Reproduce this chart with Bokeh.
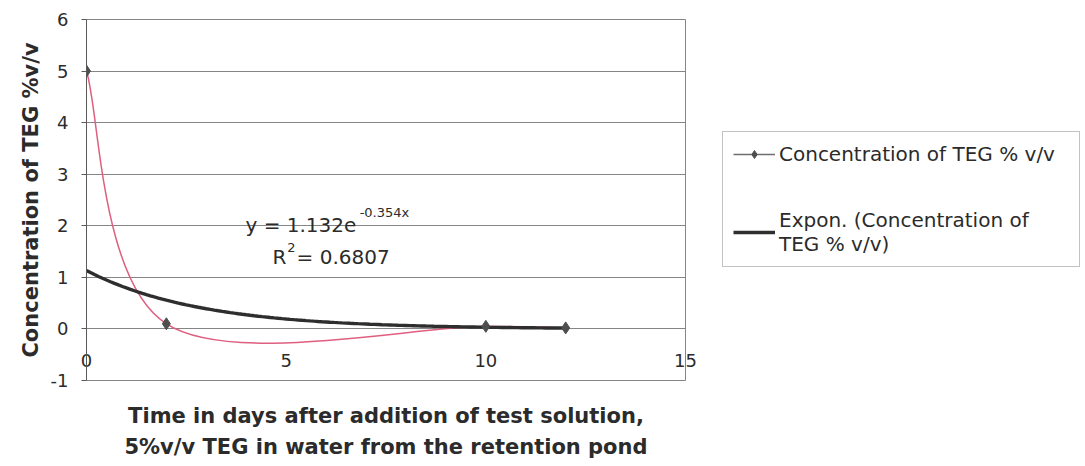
import math
from bokeh.plotting import figure
from bokeh.layouts import row
from bokeh.models import Legend, LegendItem, Label, Range1d, FixedTicker, LinearAxis
from bokeh.embed import file_html
from bokeh.resources import INLINE

# ---- data ----
days = [0, 2, 10, 12]
conc = [5.0, 0.1, 0.05, 0.02]
trend_a = 1.132
trend_b = -0.354
trend_x_end = 12
x_ticks = [0, 5, 10, 15]
y_ticks = [-1, 0, 1, 2, 3, 4, 5, 6]
series_name = "Concentration of TEG % v/v"
trend_name = "Expon. (Concentration of\nTEG % v/v)"
x_title = "Time in days after addition of test solution,\n5%v/v TEG in water from the retention pond"
y_title = "Concentration of TEG %v/v"

FONT = "DejaVu Sans"
TXT = "#2b2b2b"
GRID = "#858585"

H = 464
W1 = 700
FL, FT, FR, FB = 86, 19, 685, 380
p = figure(width=W1, height=H, output_backend="svg", toolbar_location=None,
           x_range=Range1d(0, 15), y_range=Range1d(-1, 6),
           min_border_left=FL, min_border_top=FT, min_border_right=W1 - FR, min_border_bottom=H - FB)
p.background_fill_color = "white"
p.border_fill_color = "white"
p.outline_line_color = GRID
p.outline_line_width = 1

p.xgrid.visible = False
p.ygrid.ticker = FixedTicker(ticks=y_ticks)
p.ygrid.grid_line_color = GRID
p.ygrid.grid_line_width = 1

# y axis
p.yaxis.ticker = FixedTicker(ticks=y_ticks)
p.yaxis.major_label_overrides = {-1: "-1"}
p.yaxis.axis_line_color = "#5a5a5a"
p.yaxis.major_tick_line_color = "#5a5a5a"
p.yaxis.major_tick_out = 5
p.yaxis.major_tick_in = 0
p.yaxis.minor_tick_line_color = None
p.yaxis.major_label_standoff = 13
p.yaxis.major_label_text_font = FONT
p.yaxis.major_label_text_font_size = "18px"
p.yaxis.major_label_text_color = TXT
p.yaxis.axis_label = y_title
p.yaxis.axis_label_text_font = FONT
p.yaxis.axis_label_text_font_style = "bold"
p.yaxis.axis_label_text_font_size = "21px"
p.yaxis.axis_label_text_color = TXT
p.yaxis.axis_label_standoff = 5

# x axis: tick labels pulled up inside the frame, just under the zero line
xa = p.xaxis[0]
xa.ticker = FixedTicker(ticks=x_ticks)
xa.axis_line_color = None
xa.major_tick_line_color = None
xa.minor_tick_line_color = None
xa.major_label_standoff = -33
xa.major_label_text_font = FONT
xa.major_label_text_font_size = "18px"
xa.major_label_text_color = TXT

# x axis title below the frame
xt = LinearAxis(ticker=FixedTicker(ticks=[]), axis_line_color=None,
                major_tick_line_color=None, minor_tick_line_color=None,
                major_label_text_font_size="0px")
xt.axis_label = x_title
xt.axis_label_text_font = FONT
xt.axis_label_text_font_style = "bold"
xt.axis_label_text_font_size = "21px"
xt.axis_label_text_color = TXT
xt.axis_label_text_line_height = 1.3
xt.axis_label_standoff = 23
p.add_layout(xt, "below")

# smoothed series line (Excel-style Catmull-Rom smoothing derived from the data)
n = len(days)
x0s, y0s, x1s, y1s, cx0, cy0, cx1, cy1 = [], [], [], [], [], [], [], []
for i in range(n - 1):
    pa = (days[max(i - 1, 0)], conc[max(i - 1, 0)])
    p1 = (days[i], conc[i])
    p2 = (days[i + 1], conc[i + 1])
    pb = (days[min(i + 2, n - 1)], conc[min(i + 2, n - 1)])
    x0s.append(p1[0]); y0s.append(p1[1]); x1s.append(p2[0]); y1s.append(p2[1])
    cx0.append(p1[0] + (p2[0] - pa[0]) / 6.0); cy0.append(p1[1] + (p2[1] - pa[1]) / 6.0)
    cx1.append(p2[0] - (pb[0] - p1[0]) / 6.0); cy1.append(p2[1] - (pb[1] - p1[1]) / 6.0)
p.bezier(x0=x0s, y0=y0s, x1=x1s, y1=y1s, cx0=cx0, cy0=cy0, cx1=cx1, cy1=cy1,
         line_color="#df5f7f", line_width=1.5)

# exponential trend line
tx = [trend_x_end * k / 120.0 for k in range(121)]
ty = [trend_a * math.exp(trend_b * v) for v in tx]
p.line(tx, ty, line_color="#2e2e2e", line_width=3.4)

# markers
p.scatter(days, conc, marker="diamond", size=12, fill_color="#4e4e4e", line_color="#4e4e4e")

# trendline equation
eq_style = dict(text_font=FONT, text_color=TXT, text_baseline="alphabetic")
p.add_layout(Label(x=3.98, y=2.01, text="y = 1.132e", text_font_size="20px", **eq_style))
p.add_layout(Label(x=6.84, y=2.25, text="-0.354x", text_font_size="13px", **eq_style))
p.add_layout(Label(x=4.66, y=1.39, text="R", text_font_size="20px", **eq_style))
p.add_layout(Label(x=5.03, y=1.58, text="2", text_font_size="13px", **eq_style))
p.add_layout(Label(x=5.26, y=1.39, text="= 0.6807", text_font_size="20px", **eq_style))

# ---- legend panel on the right ----
W2 = 380
q = figure(width=W2, height=H, output_backend="svg", toolbar_location=None,
           x_range=Range1d(0, W2), y_range=Range1d(0, H),
           x_axis_type=None, y_axis_type=None,
           min_border_left=0, min_border_right=0, min_border_top=0, min_border_bottom=0)
q.outline_line_color = None
q.background_fill_color = "white"
q.border_fill_color = "white"
q.grid.visible = False
# legend sample renderers (their points lie outside the visible panel)
lg_line = q.line([-20, -10], [-20, -10], line_color="#6e6e6e", line_width=1.3)
lg_mark = q.scatter([-15], [-15], marker="diamond", size=10, fill_color="#4e4e4e", line_color="#4e4e4e")
lg_trend = q.line([-20, -10], [-20, -10], line_color="#2e2e2e", line_width=3.4)

legend = Legend(items=[LegendItem(label=series_name, renderers=[lg_line, lg_mark]),
                       LegendItem(label=trend_name, renderers=[lg_trend])],
                location=(22, 113))
legend.label_text_font = FONT
legend.label_text_font_size = "20px"
legend.label_text_color = TXT
legend.border_line_color = GRID
legend.border_line_width = 1
legend.background_fill_color = "white"
legend.glyph_width = 42
legend.glyph_height = 20
legend.label_standoff = 4
legend.label_height = 20
legend.label_width = 290
legend.spacing = 42
legend.padding = 10
legend.margin = 0
q.add_layout(legend, "center")

layout = row(p, q)
open("out.html", "w").write(file_html(layout, INLINE))
